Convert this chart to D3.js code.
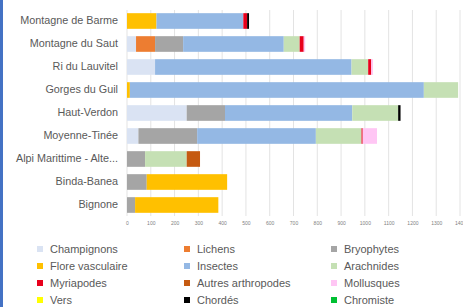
<!DOCTYPE html>
<html>
<head>
<meta charset="utf-8">
<script src="https://cdn.jsdelivr.net/npm/d3@7"></script>
<style>
  body { margin: 0; background: #fff; }
  svg { display: block; font-family: "Liberation Sans", Arial, sans-serif; }
</style>
</head>
<body>
<div id="chart"></div>
<script>
// categories, top to bottom
var sites = ["Montagne de Barme", "Montagne du Saut", "Ri du Lauvitel", "Gorges du Guil",
  "Haut-Verdon", "Moyenne-Tinée", "Alpi Marittime - Alte...", "Binda-Banea", "Bignone"];

// series (same order as sites)
var champignons = [0, 38, 118, 0, 251, 48, 0, 0, 0];
var lichens     = [0, 80, 0, 0, 0, 0, 0, 0, 0];
var bryophytes  = [0, 118, 0, 0, 161, 247, 76, 83, 34];
var flore       = [124, 0, 0, 12, 0, 0, 0, 338, 350];
var insectes    = [365, 423, 826, 1236, 535, 499, 0, 0, 0];
var arachnides  = [0, 67, 70, 144, 193, 192, 175, 0, 0];
var myriapodes  = [16, 17, 13, 0, 0, 5, 0, 0, 0];
var autresArth  = [0, 0, 0, 0, 0, 0, 56, 0, 0];
var mollusques  = [0, 6, 7, 0, 0, 60, 0, 0, 0];
var vers        = [0, 0, 0, 0, 0, 0, 0, 0, 0];
var chordes     = [8, 0, 0, 0, 10, 0, 0, 0, 0];
var chromiste   = [0, 0, 0, 0, 0, 0, 0, 0, 0];

var seriesNames = ["Champignons", "Lichens", "Bryophytes", "Flore vasculaire", "Insectes", "Arachnides",
  "Myriapodes", "Autres arthropodes", "Mollusques", "Vers", "Chordés", "Chromiste"];
var seriesValues = [champignons, lichens, bryophytes, flore, insectes, arachnides,
  myriapodes, autresArth, mollusques, vers, chordes, chromiste];
var seriesColors = ["#dae3f3", "#ed7d31", "#a5a5a5", "#ffc000", "#94b8e4", "#c5e0b4",
  "#e8001c", "#c55a11", "#ffc6f4", "#ffff00", "#000000", "#00c032"];

var xTicks = d3.range(0, 1401, 100);

var width = 463, height = 307;

// build table for d3.stack
var table = sites.map(function(s, i) {
  var row = {site: s};
  seriesNames.forEach(function(n, j) { row[n] = seriesValues[j][i]; });
  return row;
});

var svg = d3.select("#chart")
  .append("svg")
    .attr("width", width)
    .attr("height", height);

svg.append("rect")
  .attr("width", width).attr("height", height)
  .style("fill", "#fff");

// left blue edge
svg.append("rect")
  .attr("x", 0).attr("y", 0)
  .attr("width", 3).attr("height", height)
  .style("fill", "#4472c4");

var x = d3.scaleLinear()
  .domain([0, 1400])
  .range([127, 460]);

var y = d3.scaleBand()
  .domain(sites)
  .range([9.5, 216.5])
  .paddingInner(0.32)
  .paddingOuter(0.16);

var color = d3.scaleOrdinal()
  .domain(seriesNames)
  .range(seriesColors);

// gridlines
svg.append("g")
  .selectAll("line")
  .data(xTicks)
  .enter()
  .append("line")
    .attr("x1", function(d) { return x(d); })
    .attr("x2", function(d) { return x(d); })
    .attr("y1", 10)
    .attr("y2", 216)
    .style("stroke", "#e3e3e3")
    .style("stroke-width", 1);

// x axis labels
var xAxis = svg.append("g")
  .attr("transform", "translate(0,216)")
  .call(d3.axisBottom(x).tickValues(xTicks).tickFormat(d3.format("d")).tickSize(0).tickPadding(5));
xAxis.select(".domain").remove();
xAxis.selectAll("text")
  .style("font-size", "5px")
  .style("fill", "#7f7f7f")
  .style("font-family", "Liberation Sans, Arial, sans-serif");

// category labels
var yAxis = svg.append("g")
  .attr("transform", "translate(118,0)")
  .call(d3.axisLeft(y).tickSize(0).tickPadding(0));
yAxis.select(".domain").remove();
yAxis.selectAll("text")
  .style("font-size", "10.8px")
  .style("fill", "#595959")
  .style("font-family", "Liberation Sans, Arial, sans-serif");

// stacked bars
var stacked = d3.stack().keys(seriesNames)(table);

svg.append("g")
  .selectAll("g")
  .data(stacked)
  .enter()
  .append("g")
    .style("fill", function(d) { return color(d.key); })
  .selectAll("rect")
  .data(function(d) { return d; })
  .enter()
  .append("rect")
    .attr("x", function(d) { return x(d[0]); })
    .attr("y", function(d) { return y(d.data.site); })
    .attr("width", function(d) { return x(d[1]) - x(d[0]); })
    .attr("height", y.bandwidth());

// legend
var legX = [37, 184, 331];
var legY = [249, 266, 283, 300];

var leg = svg.append("g")
  .selectAll("g")
  .data(seriesNames)
  .enter()
  .append("g")
    .attr("transform", function(d, i) {
      return "translate(" + legX[i % 3] + "," + legY[Math.floor(i / 3)] + ")";
    });

leg.append("rect")
  .attr("x", 0).attr("y", -3)
  .attr("width", 6).attr("height", 6)
  .style("fill", function(d) { return color(d); });

leg.append("text")
  .attr("x", 13)
  .attr("y", 0)
  .attr("dy", "0.35em")
  .style("font-size", "11px")
  .style("fill", "#595959")
  .text(function(d) { return d; });
</script>
</body>
</html>
